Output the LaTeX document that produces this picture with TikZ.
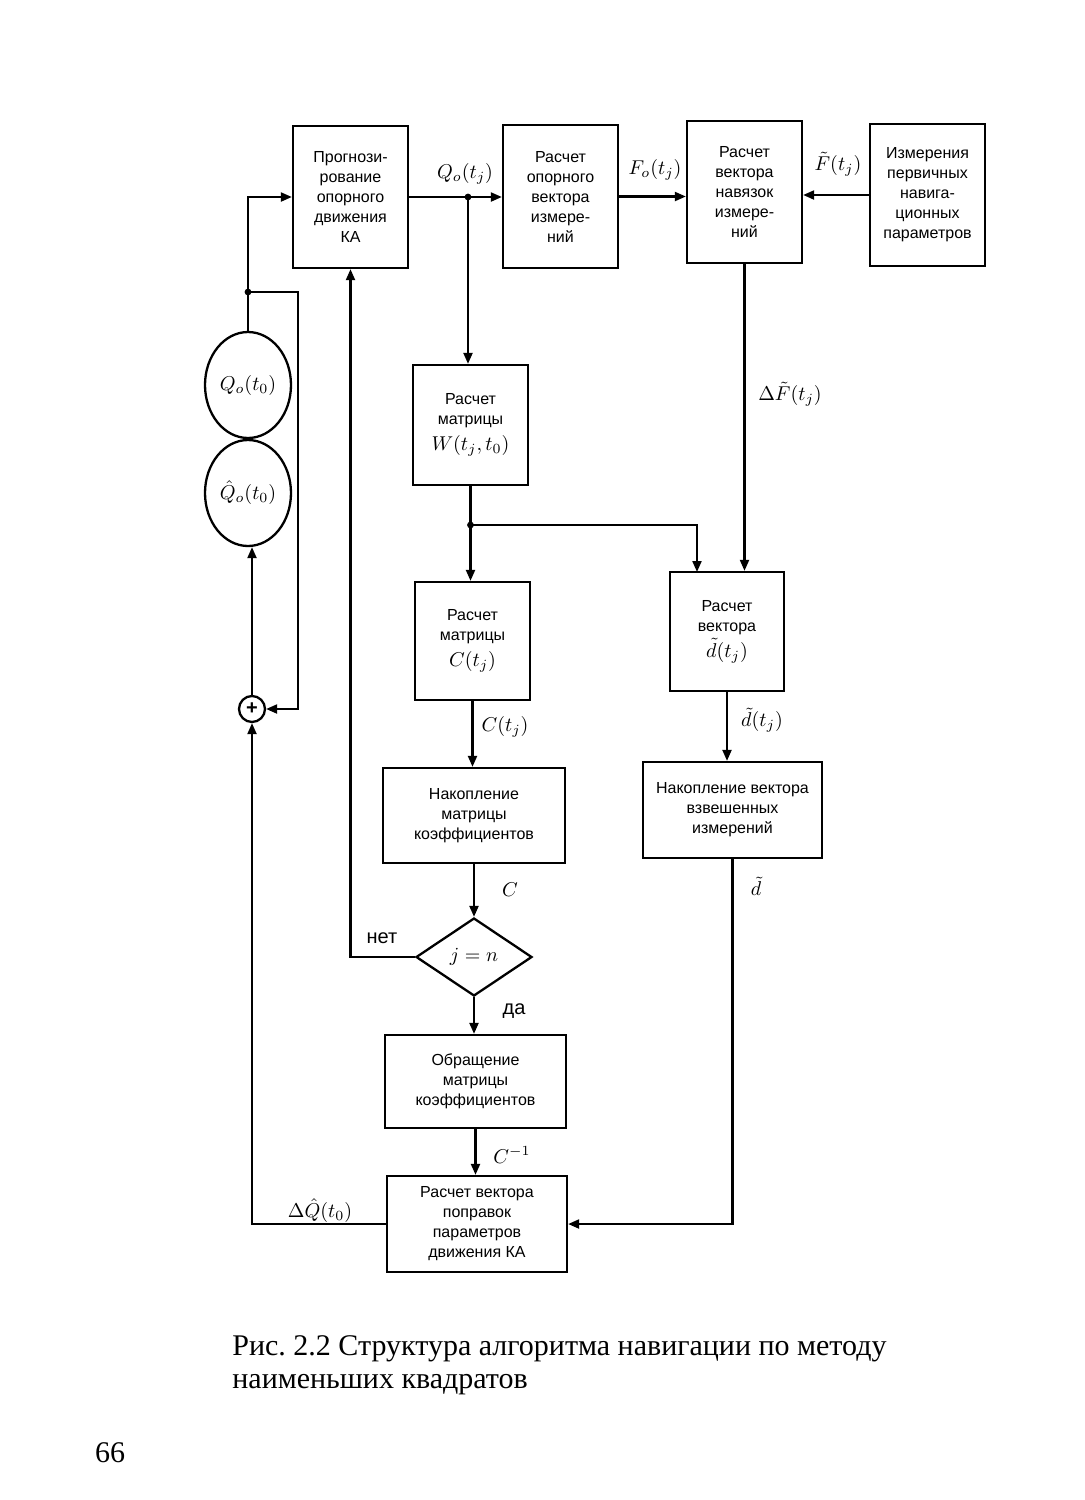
\documentclass[tikz,border=0pt]{standalone}
\usepackage{fontspec}
\setmainfont{Liberation Serif}
\setsansfont{Liberation Sans}
\usetikzlibrary{shapes.geometric,arrows.meta}
\begin{document}
\frenchspacing
\begin{tikzpicture}[x=0.5pt,y=-0.5pt,
  box/.style={draw, line width=1.15pt, font=\sffamily\fontsize{8}{10}\selectfont, align=center, inner sep=1pt},
  arr/.style={-{Triangle[length=5.5pt,width=4.5pt]}, line width=1.05pt},
  ln/.style={line width=1.05pt},
  lbl/.style={font=\fontsize{10}{12}\selectfont, inner sep=0.5pt},
  word/.style={font=\sffamily\fontsize{10}{12}\selectfont, inner sep=1pt},
  oval/.style={draw, ellipse, line width=1.15pt, inner sep=0pt, minimum width=43pt, minimum height=53pt, font=\fontsize{10}{12}\selectfont},
  dot/.style={circle, fill, inner sep=0pt, minimum size=3.4pt}
]
\useasboundingbox (0,0) rectangle (1085,1500);

% boxes
\node[box, minimum width=57.5pt, minimum height=71pt] (b1) at (350.5,197) {Прогнози-\\рование\\опорного\\движения\\КА};
\node[box, minimum width=57.5pt, minimum height=71.5pt] (b2) at (560.5,196.5) {Расчет\\опорного\\вектора\\измере-\\ний};
\node[box, minimum width=57.5pt, minimum height=71pt] (b3) at (744.5,192) {Расчет\\вектора\\навязок\\измере-\\ний};
\node[box, minimum width=57.5pt, minimum height=71pt] (b4) at (927.5,195) {Измерения\\первичных\\навига-\\ционных\\параметров};
\node[box, minimum width=57.5pt, minimum height=60pt] (b5) at (470.5,425) {Расчет\\матрицы\\[3pt]{\fontsize{10}{12}\selectfont $W(t_j,t_0)$}};
\node[box, minimum width=57.5pt, minimum height=59pt] (b6) at (472.5,641) {Расчет\\матрицы\\[3pt]{\fontsize{10}{12}\selectfont $C(t_j)$}};
\node[box, minimum width=57pt, minimum height=59.5pt] (b7) at (727,631.5) {Расчет\\вектора\\[1pt]{\fontsize{10}{12}\selectfont $\tilde d(t_j)$}};
\node[box, minimum width=91pt, minimum height=47.5pt] (b8) at (474,815.5) {Накопление\\матрицы\\коэффициентов};
\node[box, minimum width=89.5pt, minimum height=48pt] (b9) at (732.5,810) {Накопление вектора\\взвешенных\\измерений};
\node[draw, diamond, line width=1.15pt, inner sep=0pt, minimum width=58pt, minimum height=39pt, font=\fontsize{10}{12}\selectfont] (dia) at (474,957) {$j=n$};
\node[box, minimum width=90.5pt, minimum height=46.5pt] (b11) at (475.5,1081.5) {Обращение\\матрицы\\коэффициентов};
\node[box, minimum width=90pt, minimum height=48pt] (b12) at (477,1224) {Расчет вектора\\поправок\\параметров\\движения КА};

% ellipses and summator
\node[oval] (e1) at (248,385) {$Q_o(t_0)$};
\node[oval] (e2) at (248,493) {$\hat Q_o(t_0)$};
\node[draw, circle, line width=1.15pt, inner sep=0pt, minimum size=13pt, font=\sffamily\bfseries\fontsize{10}{10}\selectfont] (plus) at (252,709) {+};

% junctions
\coordinate (j1) at (468,197);
\coordinate (j2) at (470.5,525);
\coordinate (j3) at (248,292);
\coordinate (c1) at (298,292);
\coordinate (k7) at (697,572);
\node[dot] at (j1) {};
\node[dot] at (j2) {};
\node[dot] at (j3) {};

% connectors
\draw[arr] (b1.east) -- (b1.east -| b2.west);
\draw[arr] (j1) -- (j1 |- b5.north);
\draw[arr] (b2.east) -- (b2.east -| b3.west);
\draw[arr] (b4.west) -- (b4.west -| b3.east);
\draw[arr] (b3.south) -- (b3.south |- b7.north);
\draw[ln] (b5.south) -- (j2);
\draw[arr] (j2) -- (j2 |- b6.north);
\draw[arr] (j2) -| (k7);
\draw[arr] (b6.south) -- (b6.south |- b8.north);
\draw[arr] (b7.south) -- (b7.south |- b9.north);
\draw[arr] (b8.south) -- (b8.south |- dia.north);
\draw[arr] (dia.west) -| (b1.south);
\draw[arr] (dia.south) -- (dia.south |- b11.north);
\draw[arr] (b11.south) -- (b11.south |- b12.north);
\draw[arr] (b9.south) |- (b12.east);
\draw[arr] (b12.west) -| (plus.south);
\draw[arr] (plus.north) -- (plus.north |- e2.south);
\draw[arr] (e1.north) |- (b1.west);
\draw[arr] (j3) -- (c1) |- (plus.east);

% labels
\node[lbl] (l1) at (465,174) {$Q_o(t_j)$};
\node[lbl] (l2) at (655,170) {$F_o(t_j)$};
\node[lbl] (l3) at (838,164) {$\tilde F(t_j)$};
\node[lbl] (l4) at (790,394) {$\Delta\tilde F(t_j)$};
\node[lbl] (l5) at (505,727) {$C(t_j)$};
\node[lbl] (l6) at (762,720) {$\tilde d(t_j)$};
\node[lbl] (l7) at (510,890) {$C$};
\node[lbl] (l8) at (756,886) {$\tilde d$};
\node[lbl] (l9) at (512,1155) {$C^{-1}$};
\node[lbl] (l10) at (320,1211) {$\Delta\hat Q(t_0)$};
\node[word] (w1) at (382,938) {нет};
\node[word] (w2) at (514,1011) {да};

% caption
\node[anchor=north west, align=left, inner sep=0pt, font=\fontsize{15}{16.5}\selectfont] (cap) at (232,1335) {Рис. 2.2 Структура алгоритма навигации по методу\\наименьших квадратов};
\node[font=\fontsize{15}{16.5}\selectfont, inner sep=0pt] (pg) at (110,1453) {66};
\end{tikzpicture}
\end{document}
